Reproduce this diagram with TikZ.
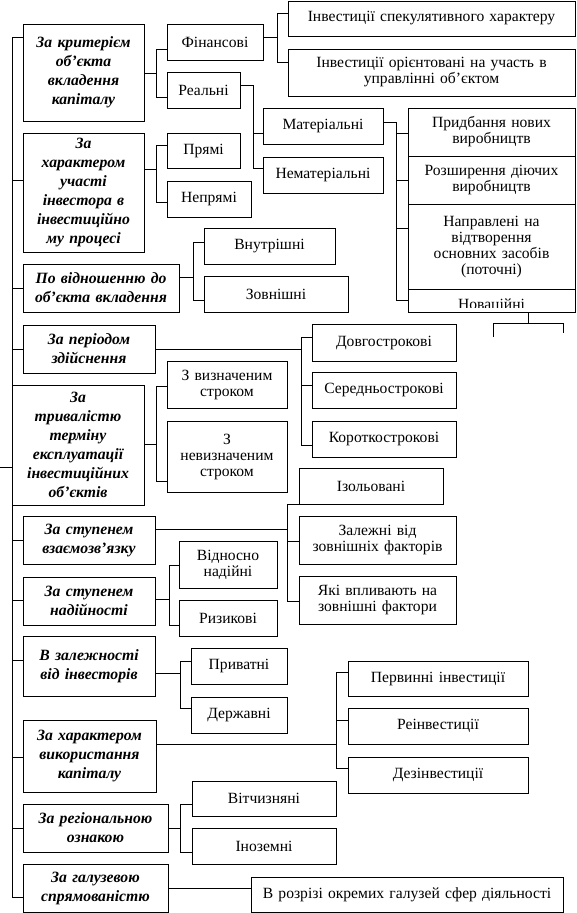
\documentclass[tikz,border=0pt]{standalone}
\usepackage{fontspec}
\setmainfont{Liberation Serif}
\newcommand\mybox[7]{%
 \pgfmathsetmacro\bxw{#4-#2}%
 \pgfmathsetmacro\bxh{#5-#3}%
 \pgfmathsetmacro\bxt{#4-#2-2}%
 \node[#6,minimum width=\bxw pt,minimum height=\bxh pt,text width=\bxt pt,anchor=north west] (#1) at (#2,#3) {#7};}
\tikzset{
 base/.style={draw,line width=0.9pt,inner sep=0pt,outer sep=0pt,align=center},
 kbox/.style={base,font=\fontsize{15.7}{19}\selectfont\bfseries\itshape},
 rbox/.style={base,font=\fontsize{15.6}{16}\selectfont},
 conn/.style={line width=0.9pt},
}
\begin{document}
\begin{tikzpicture}[x=1pt,y=-1pt]
\useasboundingbox (0,0) rectangle (576,913);
% left category boxes
\mybox{k1}{23}{24}{144}{121}{kbox}{За критерієм\\об’єкта\\вкладення\\капіталу}
\mybox{k2}{23}{133}{144}{252}{kbox}{За\\характером\\участі\\інвестора в\\інвестиційно\\му процесі}
\mybox{k3}{23}{264}{179}{312}{kbox}{По відношенню до\\об’єкта вкладення}
\mybox{k4}{23}{325}{155}{373}{kbox}{За періодом\\здійснення}
\mybox{k5}{12}{385}{144}{505}{kbox}{За\\тривалістю\\терміну\\експлуатації\\інвестиційних\\об’єктів}
\mybox{k6}{23}{516}{155}{564}{kbox}{За ступенем\\взаємозв’язку}
\mybox{k7}{23}{577}{155}{625}{kbox}{За ступенем\\надійності}
\mybox{k8}{23}{636}{155}{696}{kbox}{В залежності\\від інвесторів}
\mybox{k9}{23}{720}{156}{792}{kbox}{За характером\\використання\\капіталу}
\mybox{k10}{23}{804}{168}{852}{kbox}{За регіональною\\ознакою}
\mybox{k11}{23}{864}{168}{912}{kbox}{За галузевою\\спрямованістю}
% children
\mybox{fin}{167}{24}{263}{60}{rbox}{Фінансові}
\mybox{real}{167}{72}{240}{108}{rbox}{Реальні}
\mybox{spec}{288}{1}{575}{36}{rbox}{Інвестиції спекулятивного характеру}
\mybox{orient}{288}{49}{575}{96}{rbox}{Інвестиції орієнтовані на участь в\\управлінні об’єктом}
\mybox{mat}{263}{108}{383}{144}{rbox}{Матеріальні}
\mybox{nemat}{263}{157}{383}{193}{rbox}{Нематеріальні}
\mybox{prid}{408}{108}{575}{156}{rbox}{Придбання нових\\виробництв}
\mybox{rozsh}{408}{156}{575}{204}{rbox}{Розширення діючих\\виробництв}
\mybox{napr}{408}{204}{575}{289}{rbox}{Направлені на\\відтворення\\основних засобів\\(поточні)}
\mybox{nov}{408}{289}{575}{312}{rbox}{}
\begin{scope}
\clip (409,290) rectangle (574,307.5);
\node[font=\fontsize{15.6}{16}\selectfont,inner sep=0pt,anchor=base] (novt) at (491.5,309) {Новаційні};
\end{scope}
\mybox{pryami}{167}{133}{240}{168}{rbox}{Прямі}
\mybox{nepr}{167}{181}{251}{217}{rbox}{Непрямі}
\mybox{vnutr}{204}{228}{335}{264}{rbox}{Внутрішні}
\mybox{zovn}{204}{276}{348}{312}{rbox}{Зовнішні}
\mybox{dovgo}{312}{324}{456}{361}{rbox}{Довгострокові}
\mybox{sered}{312}{372}{456}{408}{rbox}{Середньострокові}
\mybox{korot}{312}{421}{456}{457}{rbox}{Короткострокові}
\mybox{vyzn}{167}{361}{287}{408}{rbox}{З визначеним\\строком}
\mybox{nevyzn}{167}{421}{287}{492}{rbox}{З\\невизначеним\\строком}
\mybox{izol}{299}{468}{443}{504}{rbox}{Ізольовані}
\mybox{zalezh}{299}{516}{456}{564}{rbox}{Залежні від\\зовнішніх факторів}
\mybox{yaki}{299}{576}{456}{624}{rbox}{Які впливають на\\зовнішні фактори}
\mybox{vidn}{179}{541}{277}{588}{rbox}{Відносно\\надійні}
\mybox{ryzyk}{179}{600}{277}{636}{rbox}{Ризикові}
\mybox{pryv}{191}{648}{287}{684}{rbox}{Приватні}
\mybox{derzh}{191}{697}{287}{733}{rbox}{Державні}
\mybox{perv}{348}{661}{528}{696}{rbox}{Первинні інвестиції}
\mybox{reinv}{348}{708}{528}{744}{rbox}{Реінвестиції}
\mybox{dezinv}{348}{757}{528}{793}{rbox}{Дезінвестиції}
\mybox{vitch}{192}{781}{336}{816}{rbox}{Вітчизняні}
\mybox{inoz}{192}{828}{336}{864}{rbox}{Іноземні}
\mybox{rozr}{251}{877}{563}{912}{rbox}{В розрізі окремих галузей сфер діяльності}
% spine
\draw[conn] (k1.west|-0,37) -- (12,37) -- (12,897) -- (k11.west|-0,897);
\foreach \k/\y in {k2/180,k3/288,k4/349,k6/540,k7/600,k8/660,k9/757,k10/828}
  \draw[conn] (12,\y) -- (\k.west|-0,\y);
\draw[conn] (k5.west|-0,467) -- ++(-12,0);
% k1
\draw[conn] (k1.east|-0,73) -- (156,73);
\draw[conn] (156,49) -- (156,97);
\draw[conn] (156,49) -- (fin.west|-0,49);
\draw[conn] (156,97) -- (real.west|-0,97);
% fin
\draw[conn] (fin.east|-0,37) -- (277,37);
\draw[conn] (277,13) -- (277,62);
\draw[conn] (277,13) -- (spec.west|-0,13);
\draw[conn] (277,62) -- (orient.west|-0,62);
% real
\draw[conn] (real.east|-0,85) -- (253,85) -- (253,168) -- (nemat.west|-0,168);
\draw[conn] (253,133) -- (mat.west|-0,133);
% mat
\draw[conn] (mat.east|-0,122) -- (396,122) -- (396,300) -- (nov.west|-0,300);
\draw[conn] (396,133) -- (prid.west|-0,133);
\draw[conn] (396,180) -- (rozsh.west|-0,180);
\draw[conn] (396,228) -- (napr.west|-0,228);
% bracket under nov
\draw[conn] (nov.south-|528,0) -- (528,323);
\draw[conn] (493,337) -- (493,323) -- (563,323) -- (563,333);
% k2
\draw[conn] (k2.east|-0,169) -- (156,169);
\draw[conn] (156,145) -- (156,202);
\draw[conn] (156,145) -- (pryami.west|-0,145);
\draw[conn] (156,202) -- (nepr.west|-0,202);
% k3
\draw[conn] (k3.east|-0,277) -- (193,277);
\draw[conn] (193,242) -- (193,300);
\draw[conn] (193,242) -- (vnutr.west|-0,242);
\draw[conn] (193,300) -- (zovn.west|-0,300);
% k4
\draw[conn] (k4.east|-0,349) -- (301,349);
\draw[conn] (301,337) -- (301,445);
\draw[conn] (301,337) -- (dovgo.west|-0,337);
\draw[conn] (301,385) -- (sered.west|-0,385);
\draw[conn] (301,445) -- (korot.west|-0,445);
% k5
\draw[conn] (k5.east|-0,444) -- (156,444);
\draw[conn] (156,386) -- (156,481);
\draw[conn] (156,386) -- (vyzn.west|-0,386);
\draw[conn] (156,481) -- (nevyzn.west|-0,481);
% k6
\draw[conn] (k6.east|-0,529) -- (287,529);
\draw[conn] (287,504) -- (287,601);
\draw[conn] (287,504) -- (izol.west|-0,504);
\draw[conn] (287,541) -- (zalezh.west|-0,541);
\draw[conn] (287,601) -- (yaki.west|-0,601);
% k7
\draw[conn] (k7.east|-0,599) -- (169,599);
\draw[conn] (169,565) -- (169,625);
\draw[conn] (169,565) -- (vidn.west|-0,565);
\draw[conn] (169,625) -- (ryzyk.west|-0,625);
% k8
\draw[conn] (k8.east|-0,673) -- (180,673);
\draw[conn] (180,661) -- (180,708);
\draw[conn] (180,661) -- (pryv.west|-0,661);
\draw[conn] (180,708) -- (derzh.west|-0,708);
% k9
\draw[conn] (k9.east|-0,744) -- (336,744);
\draw[conn] (336,672) -- (336,768);
\draw[conn] (336,672) -- (perv.west|-0,672);
\draw[conn] (336,720) -- (reinv.west|-0,720);
\draw[conn] (336,768) -- (dezinv.west|-0,768);
% k10
\draw[conn] (k10.east|-0,828) -- (180,828);
\draw[conn] (180,804) -- (180,852);
\draw[conn] (180,804) -- (vitch.west|-0,804);
\draw[conn] (180,852) -- (inoz.west|-0,852);
% k11
\draw[conn] (k11.east|-0,888) -- (rozr.west|-0,888);
\end{tikzpicture}
\end{document}
